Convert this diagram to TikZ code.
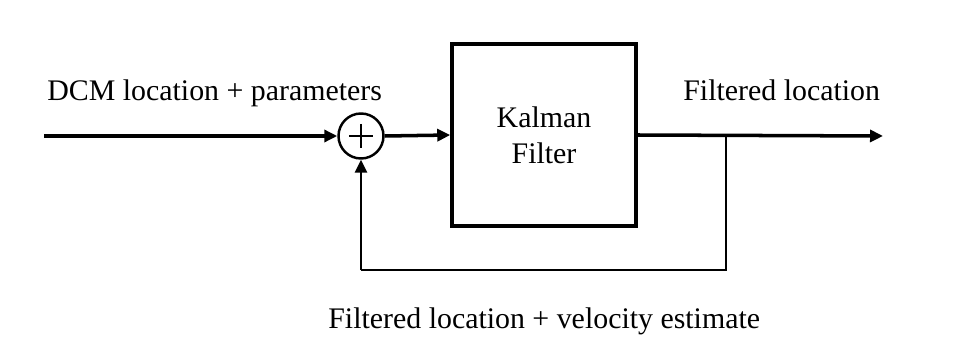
\documentclass[tikz,border=0pt]{standalone}
\usepackage{fontspec}
\setmainfont{Liberation Serif}
\usepackage{tikz}
\usetikzlibrary{arrows.meta, positioning, calc}
\tikzset{
  block/.style={rectangle, draw=black, fill=white,
    minimum width=3.68cm, minimum height=3.64cm, align=center,
    font=\fontsize{17}{20.5}\selectfont, line width=2pt},
  sumjunc/.style={circle, draw=black, fill=white,
    minimum size=0.9cm, inner sep=0pt, line width=1.4pt},
  arrow/.style={-{Triangle[length=0.26cm, width=0.24cm]}, line width=2pt, color=black},
  fbarrow/.style={-{Triangle[length=0.26cm, width=0.24cm]}, line width=1.6pt, color=black},
  line/.style={line width=1.6pt, color=black},
  lbl/.style={font=\fontsize{17}{20}\selectfont, anchor=base west, inner sep=0pt}
}
\begin{document}
\begin{tikzpicture}[x=0.2mm, y=-0.2mm]
  \useasboundingbox (0,0) rectangle (973,337);

  % Blocks
  \node[sumjunc] (sum) at (361,136) {};
  \draw[line width=0.8pt] ($(sum.center)+(-12,0)$) -- ($(sum.center)+(12,0)$)
    ($(sum.center)+(0,-12)$) -- ($(sum.center)+(0,12)$);
  \node[block] (kf) at (544,135) {Kalman\\Filter};

  % Input and output
  \coordinate (in) at (44,136);
  \coordinate (out) at (883,136);
  \coordinate (tap) at (726,136);
  \draw[arrow] (in) -- (sum.west);
  \draw[arrow] (sum.east) -- (kf.west);
  \draw[arrow] (kf.east) -- (out);

  % Feedback path
  \coordinate (fbr) at (726,270);
  \coordinate (fbl) at (361,270);
  \draw[line] (tap) -- (fbr) -- (fbl);
  \draw[fbarrow] (fbl) -- (sum.south);

  % Labels
  \node[lbl] (inlbl) at (47,101) {DCM location + parameters};
  \node[lbl] (outlbl) at (683,101) {Filtered location};
  \node[lbl] (fblbl) at (328,328) {Filtered location + velocity estimate};
\end{tikzpicture}
\end{document}
